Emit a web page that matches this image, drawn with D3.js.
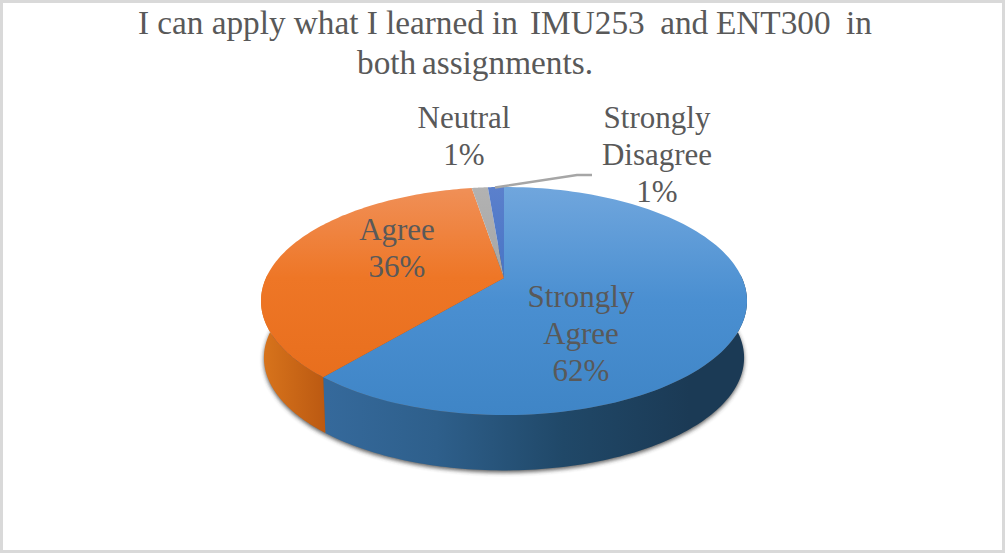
<!DOCTYPE html>
<html><head><meta charset="utf-8">
<script src="https://cdnjs.cloudflare.com/ajax/libs/d3/7.8.5/d3.min.js"></script>
<style>html,body{margin:0;padding:0;background:#fff}svg{display:block}text{font-family:"Liberation Serif",serif;fill:#595959;white-space:pre}</style>
</head><body><svg id="c" width="1005" height="553"></svg>
<script>
const categories = ["Strongly Agree","Agree","Neutral","Strongly Disagree"];
const sliceShares = [61.1,36.3,1.3,1.3];
const percentLabels = ["62%","36%","1%","1%"];
const labelLines = [["Strongly","Agree"],["Agree"],["Neutral"],["Strongly","Disagree"]];
const titleRuns = [["I can apply what I learned in",138,518,34],["IMU253  and ENT300  in",530,872,34],["both assignments.",357,593,74]];

const svg = d3.select("#c");
const W=1005,H=553;
const apex={x:504,y:278}, K=238, A=109.4, C=-0.2018, depthShift=57, rimScale=0.988;
const project=(t)=>{const u=Math.sin(t),v=-Math.cos(t),w=1+C*v;return [apex.x+K*u/w,apex.y+A*v/w];};
const projectLow=(t)=>{const p=project(t);return [apex.x+(p[0]-apex.x)*rimScale,apex.y+depthShift+(p[1]-apex.y)*rimScale];};
const line=d3.line();
const samples=(a,b)=>d3.range(0,121).map(i=>a+(b-a)*i/120);
const pie=d3.pie().sort(null)(sliceShares);
const defs=svg.append("defs");
const grad=(id,x1,y1,x2,y2,stops)=>{const g=defs.append("linearGradient").attr("id",id).attr("gradientUnits","userSpaceOnUse").attr("x1",x1).attr("y1",y1).attr("x2",x2).attr("y2",y2);stops.forEach(s=>g.append("stop").attr("offset",s[0]).attr("stop-color",s[1]));};
grad("gTop0",0,187,0,415,[[0,"#70a6dd"],[0.5,"#4a8fd1"],[1,"#3f85c6"]]);
grad("gTop1",0,187,0,415,[[0,"#f09058"],[0.4,"#ee7626"],[1,"#e66c1a"]]);
grad("gTop2",0,187,0,300,[[0,"#b2b2b2"],[1,"#a3a3a3"]]);
grad("gTop3",0,187,0,300,[[0,"#5b80cc"],[1,"#4472c4"]]);
grad("gSide0",328,0,690,0,[[0,"#35699b"],[0.3,"#2e5f8b"],[0.65,"#204868"],[1,"#1b3a55"]]);
grad("gSide1",262,0,328,0,[[0,"#d8741c"],[1,"#ba5811"]]);
const f=defs.append("filter").attr("id","sh").attr("x","-10%").attr("y","-10%").attr("width","120%").attr("height","130%");
f.append("feGaussianBlur").attr("stdDeviation",2);

svg.append("rect").attr("x",1.5).attr("y",1.5).attr("width",W-3).attr("height",H-3).attr("fill","#fff").attr("stroke","#d9d9d9").attr("stroke-width",3);

const full=samples(0,2*Math.PI).map(projectLow);
svg.append("path").attr("d",line(full)+"Z").attr("transform","translate(0,2)").attr("fill","#333").attr("filter","url(#sh)").attr("opacity",0.8);
pie.forEach((d,i)=>{
  const a=Math.max(d.startAngle,Math.PI*0.49),b=Math.min(d.endAngle,Math.PI*1.51);
  if(a>=b) return;
  const ts=samples(a,b);
  const pts=ts.map(project).concat(ts.slice().reverse().map(projectLow));
  svg.append("path").attr("d",line(pts)+"Z").attr("fill",`url(#gSide${i})`);
});
pie.forEach((d,i)=>{
  const pts=[[apex.x,apex.y]].concat(samples(d.startAngle,d.endAngle).map(project));
  svg.append("path").attr("d",line(pts)+"Z").attr("fill",`url(#gTop${i})`);
});
svg.append("path").attr("d",line([[495,187.5],[577,175],[592,175]])).attr("fill","none").attr("stroke","#a6a6a6").attr("stroke-width",2.5);

const fs=31, lh=37;
const labelPos=[[581,307],[397,239.5],[464,128],[657,128]];
pie.forEach((d,i)=>{
  labelLines[i].concat([percentLabels[i]]).forEach((s,j)=>svg.append("text").attr("x",labelPos[i][0]).attr("y",labelPos[i][1]+j*lh).attr("text-anchor","middle").attr("font-size",fs).text(s));
});
titleRuns.forEach(r=>{
  const t=svg.append("text").attr("x",r[1]).attr("y",r[3]).attr("font-size",33.3).text(r[0]);
  const spaces=r[0].split(" ").length-1;
  t.attr("word-spacing",(r[2]-r[1]-t.node().getComputedTextLength())/spaces);
});
</script></body></html>
